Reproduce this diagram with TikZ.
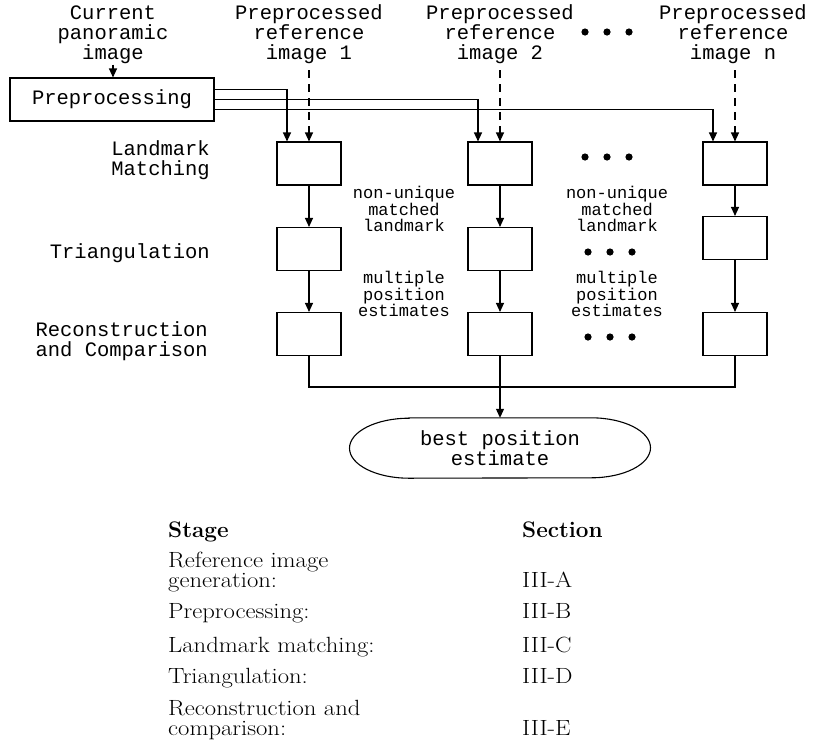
\documentclass[tikz,border=0pt]{standalone}
\usepackage{fontspec}
\setmonofont{Liberation Mono}
\newfontfamily\tabfont{Latin Modern Roman}[FakeStretch=1.12]
\usetikzlibrary{arrows.meta,calc}
\begin{document}
\begin{tikzpicture}[x=1pt,y=-1pt,
  tt/.style={font=\ttfamily\fontsize{20.5}{20}\selectfont, align=center, inner sep=0pt},
  smalltt/.style={font=\ttfamily\fontsize{17}{16.3}\selectfont, align=center, inner sep=0pt},
  stagebox/.style={draw, line width=1.1pt, minimum width=64pt, minimum height=43pt, inner sep=0pt},
  arr/.style={line width=1.1pt, -{Triangle[length=9pt,width=8pt]}},
  dasharr/.style={arr, dash pattern=on 8pt off 6pt},
  conn/.style={line width=1.1pt},
  tab/.style={font=\tabfont\fontsize{22}{20}\selectfont, align=left, inner sep=0pt, anchor=base west},
  tabhead/.style={font=\bfseries\fontsize{22.5}{20}\selectfont, inner sep=0pt, anchor=base west},
  dotmark/.style={fill=black}
]
\useasboundingbox (0,0) rectangle (813,745);

% top labels
\node[tt] (cur) at (113,34.5) {Current\\panoramic\\image};
\node[tt] (ref1) at (309,34.5) {Preprocessed\\reference\\image 1};
\node[tt] (ref2) at (500,34.5) {Preprocessed\\reference\\image 2};
\node[tt] (refn) at (733,34.5) {Preprocessed\\reference\\image n};

% preprocessing box
\node[draw, line width=1.1pt, minimum width=204pt, minimum height=43pt, inner sep=0pt,
      font=\ttfamily\fontsize{20.5}{20}\selectfont] (pre) at (112,99.5) {Preprocessing};

% stage boxes
\node[stagebox] (b11) at (309,163.5) {};
\node[stagebox] (b12) at (500,163.5) {};
\node[stagebox] (b13) at (735,163.5) {};
\node[stagebox] (b21) at (309,249) {};
\node[stagebox] (b22) at (500,249) {};
\node[stagebox] (b23) at (735,238) {};
\node[stagebox] (b31) at (309,334) {};
\node[stagebox] (b32) at (500,334) {};
\node[stagebox] (b33) at (735,334) {};

% row labels
\node[tt, align=right, anchor=east] (lm) at (210,160) {Landmark\\Matching};
\node[tt, align=right, anchor=east] (tri) at (210,253) {Triangulation};
\node[tt, align=right, anchor=east] (rec) at (208,341) {Reconstruction\\and Comparison};

% middle labels
\node[smalltt] (nu1) at (404,209) {non-unique\\matched\\landmark};
\node[smalltt] (mp1) at (404,294) {multiple\\position\\estimates};
\node[smalltt] (nu2) at (617,209) {non-unique\\matched\\landmark};
\node[smalltt] (mp2) at (617,294) {multiple\\position\\estimates};

% dots
\foreach \cx/\cy in {607/32, 607/157, 610/252, 610/337}{
  \foreach \dx in {-22,0,22}{
    \fill[dotmark] (\cx+\dx,\cy) circle (3.6pt);
  }
}

% best estimate
\node[tt, minimum width=301pt, minimum height=60pt] (best) at (500,448) {best position\\estimate};
\draw[conn] ([xshift=-91pt]best.north) -- ([xshift=91pt]best.north)
  arc[start angle=90, end angle=-90, x radius=59.5pt, y radius=30pt]
  -- ([xshift=-91pt]best.south)
  arc[start angle=270, end angle=90, x radius=59.5pt, y radius=30pt] -- cycle;

% connectors
\draw[arr] ([yshift=-1pt]cur.south) -- (cur.south |- pre.north);
\draw[arr] ([yshift=10pt]pre.east) -| ([xshift=-22pt]b11.north);
\draw[arr] (pre.east) -| ([xshift=-22pt]b12.north);
\draw[arr] ([yshift=-10pt]pre.east) -| ([xshift=-22pt]b13.north);

\draw[dasharr, shorten <=6pt] (ref1.south) -- (b11.north);
\draw[dasharr, shorten <=6pt] (ref2.south) -- (b12.north);
\draw[dasharr, shorten <=6pt] (refn.south -| b13.north) -- (b13.north);

\draw[arr] (b11) -- (b21);
\draw[arr] (b21) -- (b31);
\draw[arr] (b12) -- (b22);
\draw[arr] (b22) -- (b32);
\draw[arr] (b13) -- (b23);
\draw[arr] (b23) -- (b33);

\coordinate (j) at (500,387);
\draw[conn] (b31.south) |- (j) -| (b33.south);
\draw[conn] (b32.south) -- (j);
\draw[arr] (j) -- (best.north);

% table
\node[tabhead] (hst) at (168,537) {Stage};
\node[tabhead] (hse) at (522,537) {Section};
\node[tab] (s1) at (168,587) {Reference image\\generation:};
\node[tab] (e1) at (522,587) {III-A};
\node[tab] (s2) at (168,618) {Preprocessing:};
\node[tab] (e2) at (522,618) {III-B};
\node[tab] (s3) at (168,652) {Landmark matching:};
\node[tab] (e3) at (522,652) {III-C};
\node[tab] (s4) at (168,683) {Triangulation:};
\node[tab] (e4) at (522,683) {III-D};
\node[tab] (s5) at (168,735) {Reconstruction and\\comparison:};
\node[tab] (e5) at (522,735) {III-E};
\end{tikzpicture}
\end{document}
